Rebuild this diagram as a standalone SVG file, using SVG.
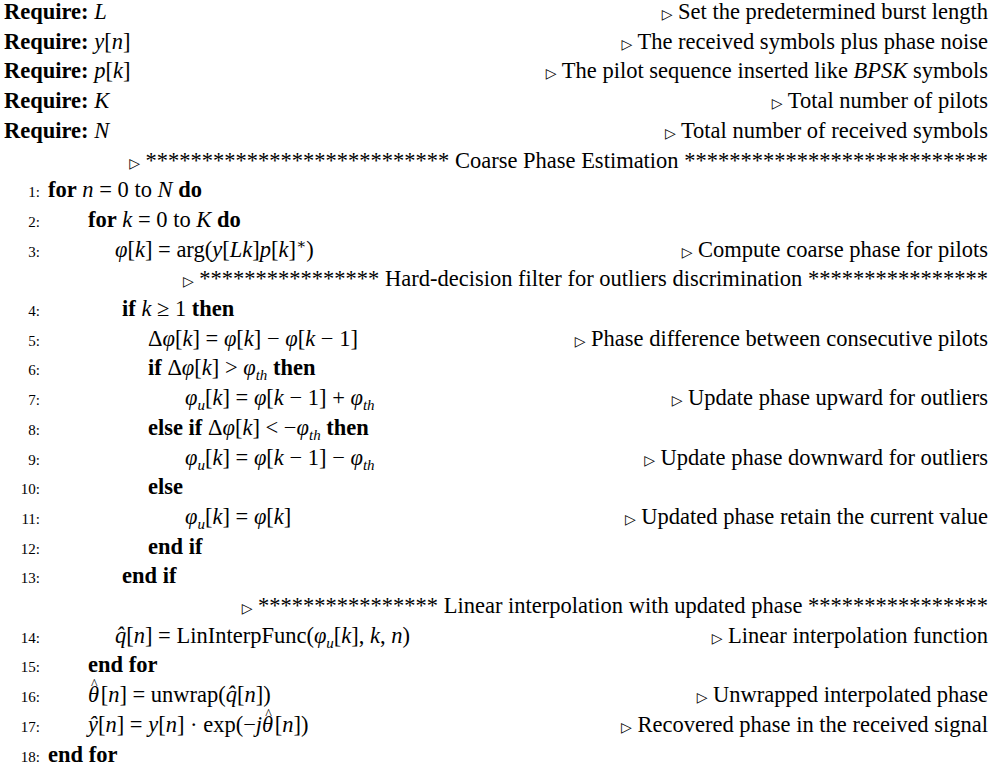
<svg xmlns="http://www.w3.org/2000/svg" width="993" height="776" viewBox="0 0 993 776">
<style>
text{font-family:"Liberation Serif","DejaVu Serif",serif;font-size:22.5px;fill:#000}
.n{font-size:15px;text-anchor:end}
.c{text-anchor:end}
.b{font-weight:bold}
.i{font-style:italic}
.s{font-size:15px;font-style:italic}
.t{font-size:14px}
</style>
<rect width="993" height="776" fill="#fff"/>
<g id="req">
<text x="4" y="19"><tspan class="b">Require:</tspan> <tspan class="i">L</tspan></text>
<text x="4" y="49"><tspan class="b">Require:</tspan> <tspan class="i">y</tspan>[<tspan class="i">n</tspan>]</text>
<text x="4" y="78"><tspan class="b">Require:</tspan> <tspan class="i">p</tspan>[<tspan class="i">k</tspan>]</text>
<text x="4" y="108"><tspan class="b">Require:</tspan> <tspan class="i">K</tspan></text>
<text x="4" y="138"><tspan class="b">Require:</tspan> <tspan class="i">N</tspan></text>
<text class="c" x="988" y="19"><tspan class="t">▷</tspan> Set the predetermined burst length</text>
<text class="c" x="988" y="49"><tspan class="t">▷</tspan> The received symbols plus phase noise</text>
<text class="c" x="988" y="78"><tspan class="t">▷</tspan> The pilot sequence inserted like <tspan class="i">BPSK</tspan> symbols</text>
<text class="c" x="988" y="108"><tspan class="t">▷</tspan> Total number of pilots</text>
<text class="c" x="988" y="138"><tspan class="t">▷</tspan> Total number of received symbols</text>
<text class="c" x="988" y="168"><tspan class="t">▷</tspan> *************************** Coarse Phase Estimation ***************************</text>
</g>
<g id="lines">
<text class="n" x="40" y="197">1:</text>
<text x="48" y="197"><tspan class="b">for</tspan> <tspan class="i">n</tspan> = 0 to <tspan class="i">N</tspan> <tspan class="b">do</tspan></text>
<text class="n" x="40" y="227">2:</text>
<text x="88" y="227"><tspan class="b">for</tspan> <tspan class="i">k</tspan> = 0 to <tspan class="i">K</tspan> <tspan class="b">do</tspan></text>
<text class="n" x="40" y="257">3:</text>
<text x="115" y="257"><tspan class="i">φ</tspan>[<tspan class="i">k</tspan>] = arg(<tspan class="i">y</tspan>[<tspan class="i">Lk</tspan>]<tspan class="i">p</tspan>[<tspan class="i">k</tspan>]<tspan dy="-8" font-size="15">∗</tspan><tspan dy="8">)</tspan></text>
<text class="c" x="988" y="257"><tspan class="t">▷</tspan> Compute coarse phase for pilots</text>
<text class="c" x="988" y="286"><tspan class="t">▷</tspan> **************** Hard-decision filter for outliers discrimination ****************</text>
<text class="n" x="40" y="316">4:</text>
<text x="122" y="316"><tspan class="b">if</tspan> <tspan class="i">k</tspan> ≥ 1 <tspan class="b">then</tspan></text>
<text class="n" x="40" y="346">5:</text>
<text x="148" y="346">Δ<tspan class="i">φ</tspan>[<tspan class="i">k</tspan>] = <tspan class="i">φ</tspan>[<tspan class="i">k</tspan>] − <tspan class="i">φ</tspan>[<tspan class="i">k</tspan> − 1]</text>
<text class="c" x="988" y="346"><tspan class="t">▷</tspan> Phase difference between consecutive pilots</text>
<text class="n" x="40" y="375">6:</text>
<text x="148" y="375"><tspan class="b">if</tspan> Δ<tspan class="i">φ</tspan>[<tspan class="i">k</tspan>] &gt; <tspan class="i">φ</tspan><tspan class="s" dy="5">th</tspan> <tspan class="b" dy="-5">then</tspan></text>
<text class="n" x="40" y="405">7:</text>
<text x="185" y="405"><tspan class="i">φ</tspan><tspan class="s" dy="5">u</tspan><tspan dy="-5">[</tspan><tspan class="i">k</tspan>] = <tspan class="i">φ</tspan>[<tspan class="i">k</tspan> − 1] + <tspan class="i">φ</tspan><tspan class="s" dy="5">th</tspan></text>
<text class="c" x="988" y="405"><tspan class="t">▷</tspan> Update phase upward for outliers</text>
<text class="n" x="40" y="435">8:</text>
<text x="148" y="435"><tspan class="b">else if</tspan> Δ<tspan class="i">φ</tspan>[<tspan class="i">k</tspan>] &lt; −<tspan class="i">φ</tspan><tspan class="s" dy="5">th</tspan> <tspan class="b" dy="-5">then</tspan></text>
<text class="n" x="40" y="465">9:</text>
<text x="185" y="465"><tspan class="i">φ</tspan><tspan class="s" dy="5">u</tspan><tspan dy="-5">[</tspan><tspan class="i">k</tspan>] = <tspan class="i">φ</tspan>[<tspan class="i">k</tspan> − 1] − <tspan class="i">φ</tspan><tspan class="s" dy="5">th</tspan></text>
<text class="c" x="988" y="465"><tspan class="t">▷</tspan> Update phase downward for outliers</text>
<text class="n" x="40" y="494">10:</text>
<text class="b" x="148" y="494">else</text>
<text class="n" x="40" y="524">11:</text>
<text x="185" y="524"><tspan class="i">φ</tspan><tspan class="s" dy="5">u</tspan><tspan dy="-5">[</tspan><tspan class="i">k</tspan>] = <tspan class="i">φ</tspan>[<tspan class="i">k</tspan>]</text>
<text class="c" x="988" y="524"><tspan class="t">▷</tspan> Updated phase retain the current value</text>
<text class="n" x="40" y="554">12:</text>
<text class="b" x="148" y="554">end if</text>
<text class="n" x="40" y="583">13:</text>
<text class="b" x="122" y="583">end if</text>
<text class="c" x="988" y="613"><tspan class="t">▷</tspan> **************** Linear interpolation with updated phase ****************</text>
<text class="n" x="40" y="643">14:</text>
<text x="115" y="643"><tspan class="i">q̂</tspan>[<tspan class="i">n</tspan>] = LinInterpFunc(<tspan class="i">φ</tspan><tspan class="s" dy="5">u</tspan><tspan dy="-5">[</tspan><tspan class="i">k</tspan>], <tspan class="i">k</tspan>, <tspan class="i">n</tspan>)</text>
<text class="c" x="988" y="643"><tspan class="t">▷</tspan> Linear interpolation function</text>
<text class="n" x="40" y="672">15:</text>
<text class="b" x="88" y="672">end for</text>
<text class="n" x="40" y="702">16:</text>
<text x="88" y="702"><tspan class="i">θ</tspan><tspan font-size="14" dx="-8" dy="-13">^</tspan><tspan dx="3" dy="13">[</tspan><tspan class="i">n</tspan>] = unwrap(<tspan class="i">q̂</tspan>[<tspan class="i">n</tspan>])</text>
<text class="c" x="988" y="702"><tspan class="t">▷</tspan> Unwrapped interpolated phase</text>
<text class="n" x="40" y="732">17:</text>
<text x="88" y="732"><tspan class="i">ŷ</tspan>[<tspan class="i">n</tspan>] = <tspan class="i">y</tspan>[<tspan class="i">n</tspan>] · exp(−<tspan class="i">jθ</tspan><tspan font-size="14" dx="-8" dy="-13">^</tspan><tspan dx="3" dy="13">[</tspan><tspan class="i">n</tspan>])</text>
<text class="c" x="988" y="732"><tspan class="t">▷</tspan> Recovered phase in the received signal</text>
<text class="n" x="40" y="762">18:</text>
<text class="b" x="48" y="762">end for</text>
</g>
</svg>
